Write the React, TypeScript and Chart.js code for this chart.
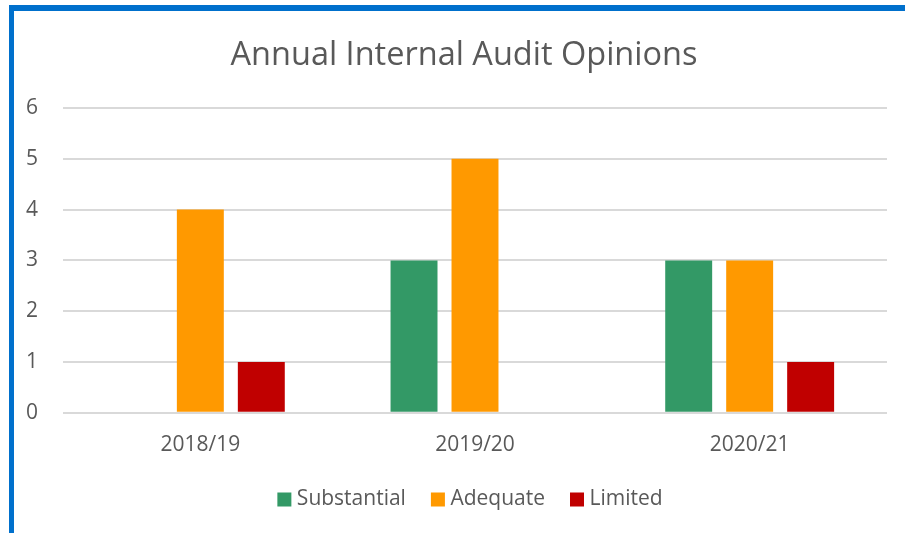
import React, { useEffect, useRef } from "react";
import { Chart, registerables } from "chart.js";

Chart.register(...registerables);

const categories = ["2018/19", "2019/20", "2020/21"];
const substantial = [0, 3, 3];
const adequate = [4, 5, 3];
const limited = [1, 0, 1];
const seriesNames = ["Substantial", "Adequate", "Limited"];
const seriesColors = ["#339966", "#FF9900", "#C00000"];
const titleText = "Annual Internal Audit Opinions";

const legendSquares = {
  id: "legendSquares",
  afterLayout(chart: any) {
    const lg = chart.legend;
    if (lg) {
      lg.left += 6;
      lg.right += 6;
    }
  },
  afterDraw(chart: any) {
    const lg = chart.legend;
    if (!lg || !lg.legendHitBoxes) return;
    const ctx = chart.ctx;
    ctx.save();
    lg.legendHitBoxes.forEach((hb: any, i: number) => {
      const ds = chart.data.datasets[i];
      ctx.fillStyle = ds.backgroundColor;
      const s = 14;
      ctx.fillRect(hb.left, hb.top + (hb.height - s) / 2, s, s);
    });
    ctx.restore();
  },
};

export default function App() {
  const ref = useRef<HTMLCanvasElement | null>(null);
  useEffect(() => {
    document.body.style.margin = "0";
    const ctx = ref.current!;
    const font = "'Open Sans', 'Noto Sans', sans-serif";
    const chart = new Chart(ctx, {
      type: "bar",
      data: {
        labels: categories,
        datasets: [substantial, adequate, limited].map((d, i) => ({
          label: seriesNames[i],
          data: d,
          backgroundColor: seriesColors[i],
          borderWidth: 0,
          barPercentage: 0.77,
          categoryPercentage: 0.666,
        })),
      },
      plugins: [legendSquares],
      options: {
        animation: false,
        responsive: false,
        maintainAspectRatio: false,
        layout: { padding: { left: 9, right: 0, top: 25, bottom: 13 } },
        plugins: {
          title: {
            display: true,
            text: titleText,
            color: "#595959",
            font: { family: font, size: 32.5, weight: "normal" },
            padding: { top: 0, bottom: 33 },
          },
          legend: {
            position: "bottom",
            labels: {
              color: "#595959",
              font: { family: font, size: 21 },
              boxWidth: 9,
              boxHeight: 14,
              padding: 25,
              generateLabels: (c: any) =>
                c.data.datasets.map((ds: any, i: number) => ({
                  text: ds.label,
                  fillStyle: "rgba(0,0,0,0)",
                  strokeStyle: "rgba(0,0,0,0)",
                  lineWidth: 0,
                  fontColor: "#595959",
                  datasetIndex: i,
                  hidden: false,
                })),
            },
          },
          tooltip: { enabled: false },
        },
        scales: {
          x: {
            grid: { display: false },
            border: { display: false },
            ticks: { color: "#595959", font: { family: font, size: 21 }, padding: 12 },
            afterFit: (s: any) => {
              s.height = s.height - 6;
            },
          },
          y: {
            min: 0,
            max: 6,
            ticks: { stepSize: 1, color: "#595959", font: { family: font, size: 21 }, padding: 25 },
            grid: { color: "#D9D9D9", lineWidth: 2, drawTicks: false },
            border: { display: false },
            afterFit: (s: any) => {
              s.width = 40;
            },
          },
          yRight: {
            position: "right",
            display: true,
            grid: { display: false, drawTicks: false },
            border: { display: false },
            ticks: { display: false },
            afterFit: (s: any) => {
              s.width = 18;
            },
          },
        },
      },
    });
    return () => chart.destroy();
  }, []);
  return (
    <div style={{ position: "absolute", left: 0, top: 0, width: 905, height: 533, overflow: "hidden", background: "#fff" }}>
      <div
        style={{
          position: "absolute",
          left: 9,
          top: 5,
          width: 896,
          height: 528,
          borderLeft: "5px solid #0070CC",
          borderTop: "6px solid #0070CC",
          boxSizing: "border-box",
        }}
      />
      <canvas
        ref={ref}
        width={891}
        height={522}
        style={{ display: "block", position: "absolute", left: 14, top: 11 }}
      />
    </div>
  );
}
